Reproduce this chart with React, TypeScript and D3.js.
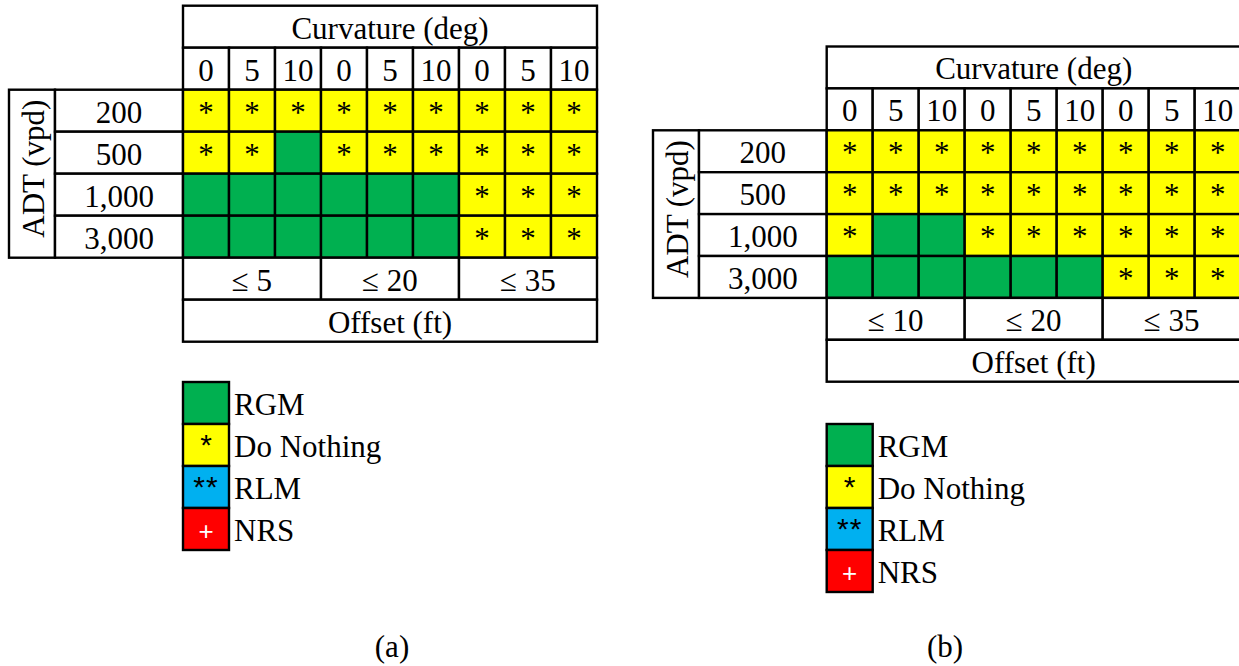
import * as d3 from "d3";
import React from "react";

const curvatures = ["0", "5", "10", "0", "5", "10", "0", "5", "10"];
const adtLabels = ["200", "500", "1,000", "3,000"];
const offsetsA = ["≤ 5", "≤ 20", "≤ 35"];
const offsetsB = ["≤ 10", "≤ 20", "≤ 35"];

// G = RGM, Y = Do Nothing
const gridA = ["YYYYYYYYY", "YYGYYYYYY", "GGGGGGYYY", "GGGGGGYYY"];
const gridB = ["YYYYYYYYY", "YYYYYYYYY", "YGGYYYYYY", "GGGGGGYYY"];

const legendNames = ["RGM", "Do Nothing", "RLM", "NRS"];
const legendSymbols = ["", "*", "**", "+"];
const legendColors = ["#00B050", "#FFFF00", "#00B0F0", "#FF0000"];
const legendSymbolColors = ["#000", "#000", "#000", "#fff"];

const cellColor: Record<string, string> = { G: "#00B050", Y: "#FFFF00" };

const W = 1239;
const H = 666;
const serif = "'Liberation Serif', 'Times New Roman', serif";
const sans = "'Liberation Sans', Arial, sans-serif";

type Panel = {
  grid: string[];
  offsets: string[];
  labelLeft: number;
  x0: number;
  y0: number;
  rowH: number;
  colW: number;
  legendTop: number;
  caption: string;
  captionX: number;
};

const panels: Panel[] = [
  { grid: gridA, offsets: offsetsA, labelLeft: 9, x0: 183, y0: 5.7, rowH: 42, colW: 46, legendTop: 382, caption: "(a)", captionX: 392 },
  { grid: gridB, offsets: offsetsB, labelLeft: 653, x0: 826.7, y0: 46.5, rowH: 41.9, colW: 46, legendTop: 424, caption: "(b)", captionX: 945 },
];

export default function App() {
  const svgRef = React.useRef<SVGSVGElement | null>(null);

  React.useEffect(() => {
    document.body.style.margin = "0";
    const svg = d3.select(svgRef.current);
    svg.selectAll("*").remove();
    const sw = 2.4;
    const fs = 31;

    panels.forEach((p) => {
      const g = svg.append("g");
      const tableW = p.colW * curvatures.length;
      const x = d3
        .scaleBand<number>()
        .domain(d3.range(curvatures.length))
        .range([p.x0, p.x0 + tableW]);
      const y = d3
        .scaleBand<string>()
        .domain(adtLabels)
        .range([p.y0 + 2 * p.rowH, p.y0 + 6 * p.rowH]);
      const xGroup = d3
        .scaleBand<string>()
        .domain(p.offsets)
        .range([p.x0, p.x0 + tableW]);
      const base = 33 * (p.rowH / 42);

      const cellRect = (xx: number, yy: number, w: number, h: number, fill: string) =>
        g.append("rect")
          .attr("x", xx)
          .attr("y", yy)
          .attr("width", w)
          .attr("height", h)
          .attr("fill", fill)
          .attr("stroke", "#000")
          .attr("stroke-width", sw);

      const label = (txt: string, xx: number, yy: number, anchor = "middle") =>
        g.append("text")
          .attr("x", xx)
          .attr("y", yy)
          .attr("text-anchor", anchor)
          .attr("font-family", serif)
          .attr("font-size", fs)
          .attr("fill", "#000")
          .text(txt);

      // header
      cellRect(p.x0, p.y0, tableW, p.rowH, "#fff");
      label("Curvature (deg)", p.x0 + tableW / 2, p.y0 + base);
      curvatures.forEach((c, i) => {
        cellRect(x(i)!, p.y0 + p.rowH, x.bandwidth(), p.rowH, "#fff");
        label(c, x(i)! + x.bandwidth() / 2, p.y0 + p.rowH + base);
      });

      // row labels
      const adtW = 46;
      cellRect(p.labelLeft, y(adtLabels[0])!, adtW, y.bandwidth() * adtLabels.length, "#fff");
      const midY = y(adtLabels[0])! + (y.bandwidth() * adtLabels.length) / 2 - 5;
      g.append("text")
        .attr("transform", `translate(${p.labelLeft + 35},${midY}) rotate(-90)`)
        .attr("text-anchor", "middle")
        .attr("font-family", serif)
        .attr("font-size", fs)
        .text("ADT (vpd)");
      adtLabels.forEach((a) => {
        cellRect(p.labelLeft + adtW, y(a)!, p.x0 - p.labelLeft - adtW, y.bandwidth(), "#fff");
        label(a, (p.labelLeft + adtW + p.x0) / 2, y(a)! + base);
      });

      // data cells
      adtLabels.forEach((a, r) => {
        p.grid[r].split("").forEach((code, i) => {
          cellRect(x(i)!, y(a)!, x.bandwidth(), y.bandwidth(), cellColor[code]);
          if (code === "Y") label("*", x(i)! + x.bandwidth() / 2, y(a)! + base);
        });
      });

      // offsets
      const offY = p.y0 + 6 * p.rowH;
      p.offsets.forEach((o) => {
        cellRect(xGroup(o)!, offY, xGroup.bandwidth(), p.rowH, "#fff");
        label(o, xGroup(o)! + xGroup.bandwidth() / 2, offY + base);
      });
      cellRect(p.x0, offY + p.rowH, tableW, p.rowH, "#fff");
      label("Offset (ft)", p.x0 + tableW / 2, offY + p.rowH + base);

      // legend
      const ly = d3
        .scaleBand<string>()
        .domain(legendNames)
        .range([p.legendTop, p.legendTop + 42 * legendNames.length]);
      legendNames.forEach((n, i) => {
        cellRect(p.x0, ly(n)!, p.colW, ly.bandwidth(), legendColors[i]);
        g.append("text")
          .attr("x", p.x0 + p.colW / 2)
          .attr("y", ly(n)! + (i === 3 ? 32 : 31))
          .attr("text-anchor", "middle")
          .attr("font-family", sans)
          .attr("font-size", i === 3 ? 26 : 30)
          .attr("letter-spacing", i === 2 ? 1 : 0)
          .attr("fill", legendSymbolColors[i])
          .text(legendSymbols[i]);
        label(n, p.x0 + p.colW + 5, ly(n)! + 33, "start");
      });

      // caption
      label(p.caption, p.captionX, 657);
    });
  }, []);

  return (
    <svg
      ref={svgRef}
      width={W}
      height={H}
      viewBox={`0 0 ${W} ${H}`}
      style={{ display: "block", background: "#fff" }}
    ></svg>
  );
}
